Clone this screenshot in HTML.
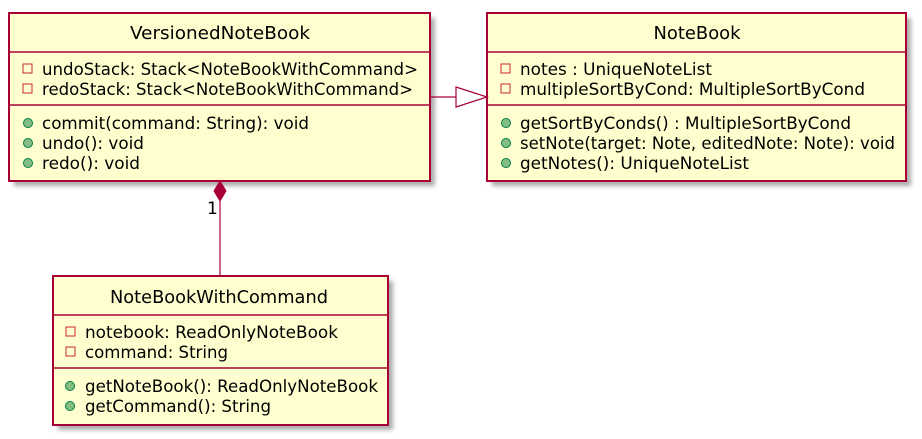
<!DOCTYPE html>
<html><head><meta charset="utf-8"><style>html,body{margin:0;padding:0;background:#fff;width:922px;height:439px;overflow:hidden}</style></head>
<body>
<svg width="922" height="439" viewBox="0 0 922 439" xmlns="http://www.w3.org/2000/svg" font-family="'DejaVu Sans','Liberation Sans',sans-serif" font-size="16.5" fill="#000">
<defs><filter id="sh" x="-10%" y="-10%" width="130%" height="130%"><feGaussianBlur stdDeviation="2"/></filter></defs>
<!-- shadows -->
<rect x="14" y="18" width="421" height="168" fill="#888" opacity="0.7" filter="url(#sh)"/>
<rect x="492" y="18" width="419" height="168" fill="#888" opacity="0.7" filter="url(#sh)"/>
<rect x="58" y="281" width="335" height="149" fill="#888" opacity="0.7" filter="url(#sh)"/>
<!-- VersionedNoteBook -->
<rect x="9" y="13" width="421" height="168" fill="#FEFECE" stroke="#A80036" stroke-width="2"/>
<line x1="9" y1="52" x2="430" y2="52" stroke="#A80036" stroke-width="1.5"/>
<line x1="9" y1="105" x2="430" y2="105" stroke="#A80036" stroke-width="1.5"/>
<text x="220" y="39" text-anchor="middle" textLength="180" lengthAdjust="spacingAndGlyphs" font-size="17.5">VersionedNoteBook</text>
<rect x="23" y="64" width="9" height="9" fill="none" stroke="#C82930"/>
<rect x="23" y="84" width="9" height="9" fill="none" stroke="#C82930"/>
<text x="42" y="75" textLength="376" lengthAdjust="spacingAndGlyphs">undoStack: Stack&lt;NoteBookWithCommand&gt;</text>
<text x="42" y="95" textLength="371" lengthAdjust="spacingAndGlyphs">redoStack: Stack&lt;NoteBookWithCommand&gt;</text>
<circle cx="28" cy="123" r="4.5" fill="#84BE84" stroke="#038048"/>
<circle cx="28" cy="143" r="4.5" fill="#84BE84" stroke="#038048"/>
<circle cx="28" cy="163" r="4.5" fill="#84BE84" stroke="#038048"/>
<text x="42" y="129" textLength="267" lengthAdjust="spacingAndGlyphs">commit(command: String): void</text>
<text x="42" y="149" textLength="102" lengthAdjust="spacingAndGlyphs">undo(): void</text>
<text x="42" y="169" textLength="98" lengthAdjust="spacingAndGlyphs">redo(): void</text>
<!-- NoteBook -->
<rect x="487" y="13" width="419" height="168" fill="#FEFECE" stroke="#A80036" stroke-width="2"/>
<line x1="487" y1="52" x2="906" y2="52" stroke="#A80036" stroke-width="1.5"/>
<line x1="487" y1="105" x2="906" y2="105" stroke="#A80036" stroke-width="1.5"/>
<text x="697" y="39" text-anchor="middle" textLength="87" lengthAdjust="spacingAndGlyphs" font-size="17.5">NoteBook</text>
<rect x="501" y="64" width="9" height="9" fill="none" stroke="#C82930"/>
<rect x="501" y="84" width="9" height="9" fill="none" stroke="#C82930"/>
<text x="520" y="75" textLength="192" lengthAdjust="spacingAndGlyphs">notes : UniqueNoteList</text>
<text x="520" y="95" textLength="345" lengthAdjust="spacingAndGlyphs">multipleSortByCond: MultipleSortByCond</text>
<circle cx="506" cy="123" r="4.5" fill="#84BE84" stroke="#038048"/>
<circle cx="506" cy="143" r="4.5" fill="#84BE84" stroke="#038048"/>
<circle cx="506" cy="163" r="4.5" fill="#84BE84" stroke="#038048"/>
<text x="520" y="129" textLength="331" lengthAdjust="spacingAndGlyphs">getSortByConds() : MultipleSortByCond</text>
<text x="520" y="149" textLength="375" lengthAdjust="spacingAndGlyphs">setNote(target: Note, editedNote: Note): void</text>
<text x="520" y="169" textLength="229" lengthAdjust="spacingAndGlyphs">getNotes(): UniqueNoteList</text>
<!-- NoteBookWithCommand -->
<rect x="53" y="276" width="335" height="149" fill="#FEFECE" stroke="#A80036" stroke-width="2"/>
<line x1="53" y1="315" x2="388" y2="315" stroke="#A80036" stroke-width="1.5"/>
<line x1="53" y1="368" x2="388" y2="368" stroke="#A80036" stroke-width="1.5"/>
<text x="219" y="303" text-anchor="middle" textLength="218" lengthAdjust="spacingAndGlyphs" font-size="17.5">NoteBookWithCommand</text>
<rect x="66" y="327" width="9" height="9" fill="none" stroke="#C82930"/>
<rect x="66" y="347" width="9" height="9" fill="none" stroke="#C82930"/>
<text x="85" y="338" textLength="253" lengthAdjust="spacingAndGlyphs">notebook: ReadOnlyNoteBook</text>
<text x="85" y="358" textLength="143" lengthAdjust="spacingAndGlyphs">command: String</text>
<circle cx="70" cy="386" r="4.5" fill="#84BE84" stroke="#038048"/>
<circle cx="70" cy="406" r="4.5" fill="#84BE84" stroke="#038048"/>
<text x="85" y="392" textLength="293" lengthAdjust="spacingAndGlyphs">getNoteBook(): ReadOnlyNoteBook</text>
<text x="85" y="412" textLength="186" lengthAdjust="spacingAndGlyphs">getCommand(): String</text>
<!-- generalization -->
<line x1="430" y1="97" x2="456" y2="97" stroke="#A80036" stroke-width="1.2"/>
<polygon points="456,87 487,97 456,107" fill="#fff" stroke="#A80036" stroke-width="1.2"/>
<!-- composition -->
<line x1="220" y1="201" x2="220" y2="276" stroke="#A80036" stroke-width="1.2"/>
<polygon points="220,181 226,191 220,201 214,191" fill="#A80036" stroke="#A80036"/>
<text x="207" y="214" font-size="17">1</text>
</svg>
</body></html>
